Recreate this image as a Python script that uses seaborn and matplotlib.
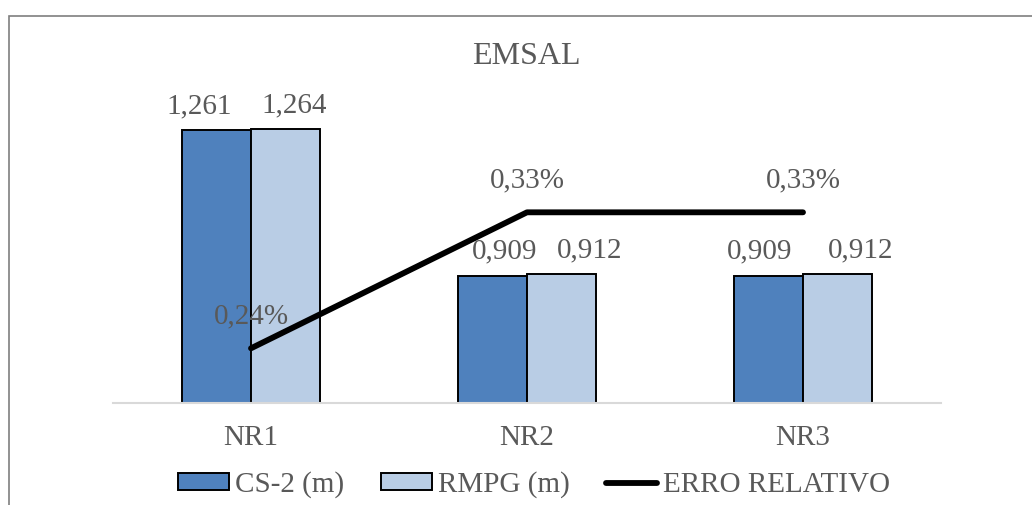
import numpy as np
import pandas as pd
import matplotlib
matplotlib.use("Agg")
import matplotlib.pyplot as plt
from matplotlib.patches import Patch, Rectangle
from matplotlib.lines import Line2D
import seaborn as sns

# Data
categories = ["NR1", "NR2", "NR3"]
cs2_values = [1.261, 0.909, 0.909]
rmpg_values = [1.264, 0.912, 0.912]
erro_relativo = [0.24, 0.33, 0.33]  # percent
series_names = ["CS-2 (m)", "RMPG (m)"]
line_name = "ERRO RELATIVO"
title = "EMSAL"

bar_colors = ["#4F81BD", "#B9CDE5"]
text_color = "#595959"
font_size = 21

# Horizontal nudges (pixels) of the value labels, per series and category
label_shift_px = [[-17.5, 12.5, -9.0], [8.5, 28.5, 23.0]]

sns.set_theme(style="white")
plt.rcParams["font.family"] = ["Liberation Serif", "DejaVu Serif"]

df = pd.DataFrame({
    "categoria": categories * 2,
    "valor": cs2_values + rmpg_values,
    "serie": [series_names[0]] * 3 + [series_names[1]] * 3,
})

W, H = 1032, 505
fig = plt.figure(figsize=(W / 100, H / 100), dpi=100)
ax = fig.add_axes([113 / W, 1 - 403 / H, (941 - 113) / W, (403 - 73) / H])

sns.barplot(data=df, x="categoria", y="valor", hue="serie",
            palette=bar_colors, width=0.5, edgecolor="black", linewidth=1.4,
            saturation=1, ax=ax, legend=False)
ax.set_xlim(-0.5, 2.5)
ax.set_ylim(0.6, 1.4)
ax.set_xlabel("")
ax.set_ylabel("")
ax.set_yticks([])
ax.tick_params(axis="x", length=0, pad=16, labelsize=font_size, labelcolor=text_color)
for s in ["top", "right", "left"]:
    ax.spines[s].set_visible(False)
ax.spines["bottom"].set_color("#D9D9D9")
ax.spines["bottom"].set_linewidth(1.5)

for cont, shifts in zip(ax.containers, label_shift_px):
    for rect, v, dx in zip(cont, cont.datavalues, shifts):
        ax.annotate(f"{v:.3f}".replace(".", ","),
                    (rect.get_x() + rect.get_width() / 2, rect.get_y() + rect.get_height()),
                    xytext=(dx * 0.72, 8), textcoords="offset points",
                    ha="center", va="bottom", fontsize=font_size, color=text_color)

# Relative error on a secondary scale
ax2 = ax.twinx()
xpos = np.arange(len(categories))
sns.lineplot(x=xpos, y=erro_relativo, color="black", linewidth=4.2, ax=ax2,
             solid_capstyle="round")
ax2.set_ylim(0.2038, 0.4222)
ax2.set_yticks([])
ax2.set_ylabel("")
for s in ax2.spines.values():
    s.set_visible(False)
for x, v in zip(xpos, erro_relativo):
    ax2.annotate(f"{v:.2f}%".replace(".", ","), (x, v), xytext=(0, 23),
                 textcoords="offset points", ha="center", va="center",
                 fontsize=font_size, color=text_color)

fig.text(526 / W, 1 - 56 / H, title, ha="center", va="center",
         fontsize=23, color=text_color)

handles = [
    Patch(facecolor=bar_colors[0], edgecolor="black", linewidth=1.4),
    Patch(facecolor=bar_colors[1], edgecolor="black", linewidth=1.4),
    Line2D([0], [0], color="black", linewidth=4.2),
]
fig.legend(handles, series_names + [line_name], loc="center",
           bbox_to_anchor=(534 / W, 1 - 485 / H), ncol=3, frameon=False,
           fontsize=font_size, labelcolor=text_color, handlelength=1.75,
           handleheight=0.5, handletextpad=0.2, columnspacing=1.25)

# Chart frame
fig.patches.append(Rectangle((9 / W, -0.1), 1.2, 1.1 - 16 / H,
                             transform=fig.transFigure, fill=False,
                             edgecolor="#7F7F7F", linewidth=1.2))

fig.savefig("out.png", dpi=100, facecolor="white")
